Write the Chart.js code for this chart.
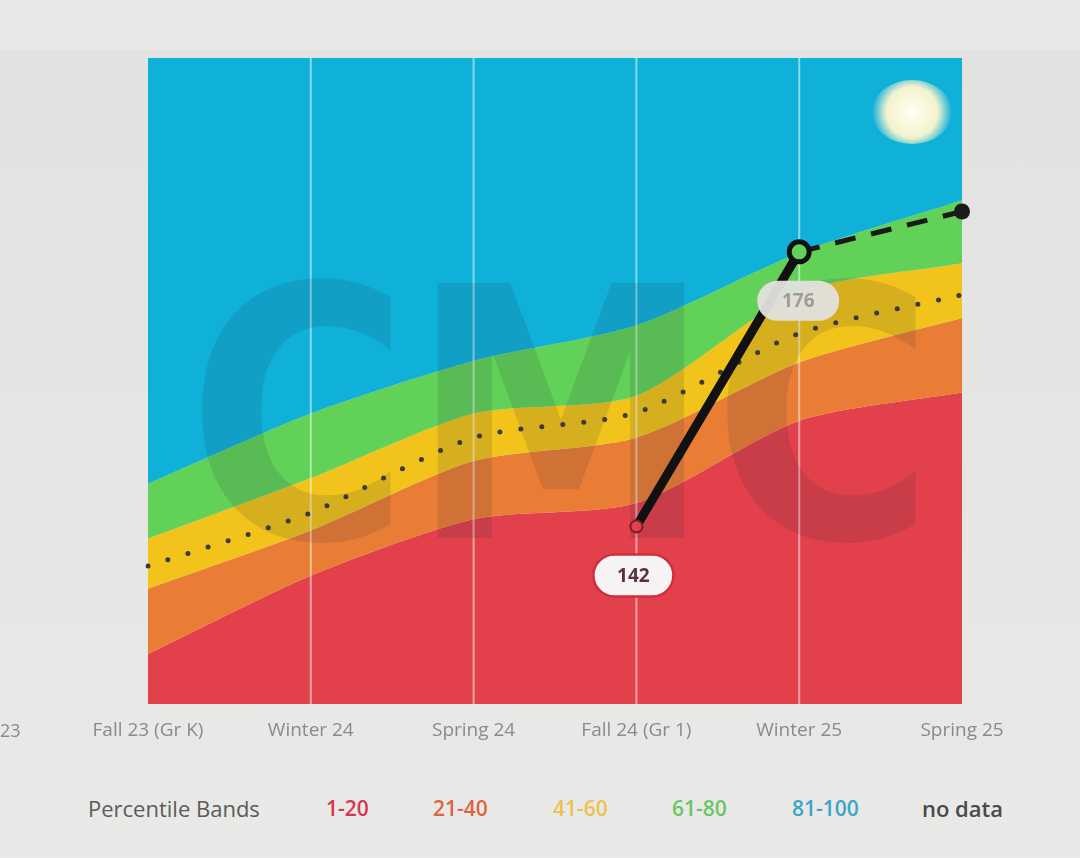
<!DOCTYPE html>
<html>
<head>
<meta charset="utf-8">
<script src="https://cdn.jsdelivr.net/npm/chart.js@4.4.1/dist/chart.umd.min.js"></script>
<style>
  body { margin:0; width:1080px; height:858px; overflow:hidden; position:relative;
         background: linear-gradient(#e8e8e6 0, #e8e8e6 50px, #e2e3e1 51px, #e9e9e7 858px);
         font-family: "Open Sans", sans-serif; }
  #wrap { position:absolute; left:0; top:0; }
  .lg { position:absolute; top:794px; font-size:21px; font-weight:600; line-height:28px; }
  .cut { position:absolute; left:0; top:718px; font-size:18px; color:#8a8a8a; }
</style>
</head>
<body>
<div id="wrap"><canvas id="grafico" width="1080" height="760"></canvas></div>
<span class="cut">23</span>
<span class="lg" style="left:88px;font-weight:400;color:#5b5b5b;font-size:22px">Percentile Bands</span>
<span class="lg" style="left:326px;color:#d6354f">1-20</span>
<span class="lg" style="left:433px;color:#e0633f">21-40</span>
<span class="lg" style="left:553px;color:#eec24c">41-60</span>
<span class="lg" style="left:672px;color:#6cc466">61-80</span>
<span class="lg" style="left:792px;color:#3ca4c9">81-100</span>
<span class="lg" style="left:922px;color:#4a4a4a;font-size:22px">no data</span>
<script>
// periodos (eje x)
const periodos = ['Fall 23 (Gr K)', 'Winter 24', 'Spring 24', 'Fall 24 (Gr 1)', 'Winter 25', 'Spring 25'];
// limites de percentiles
const p20 = [126.2, 135.9, 142.9, 144.9, 155.1, 158.6];
const p40 = [134.3, 141.5, 150.1, 153.0, 162.3, 167.8];
const p50 = [137.1, 143.7, 153.0, 156.1, 165.9, 170.7];
const p60 = [140.5, 148.0, 156.0, 158.2, 171.0, 174.6];
const p80 = [147.3, 156.0, 162.5, 166.9, 175.9, 182.4];
// puntaje del alumno
const puntaje = [null, null, null, 142, 176, null];
const proyeccion = [null, null, null, null, 176, 181];
const yMin = 120, yMax = 200;

const rojo = '#e2414b', naranja = '#ea7d35', amarillo = '#f1c31b', verde = '#62d157', azul = '#10b1d9';

function pastilla(ctx, cx, cy, w, h, fondo, borde, texto, colorTexto) {
  const r = h / 2;
  ctx.beginPath();
  ctx.moveTo(cx - w / 2 + r, cy - r);
  ctx.lineTo(cx + w / 2 - r, cy - r);
  ctx.arc(cx + w / 2 - r, cy, r, -Math.PI / 2, Math.PI / 2);
  ctx.lineTo(cx - w / 2 + r, cy + r);
  ctx.arc(cx - w / 2 + r, cy, r, Math.PI / 2, Math.PI * 1.5);
  ctx.closePath();
  ctx.fillStyle = fondo;
  ctx.fill();
  if (borde) { ctx.strokeStyle = borde; ctx.lineWidth = 2.5; ctx.stroke(); }
  ctx.fillStyle = colorTexto;
  ctx.font = 'bold 19px "Open Sans"';
  ctx.textAlign = 'center';
  ctx.textBaseline = 'middle';
  ctx.fillText(texto, cx, cy + 1);
}

const extras = {
  id: 'extras',
  afterDatasetDraw(chart, args) {
    if (args.index !== 3) return; // despues de las bandas
    const { ctx, chartArea: a, scales: { x } } = chart;
    ctx.save();
    ctx.strokeStyle = 'rgba(255,255,255,0.5)';
    ctx.lineWidth = 2;
    periodos.forEach((p, i) => {
      if (i === 0 || i === periodos.length - 1) return;
      const px = x.getPixelForValue(i);
      ctx.beginPath(); ctx.moveTo(px, a.top); ctx.lineTo(px, a.bottom); ctx.stroke();
    });
    // marca de agua
    ctx.font = 'bold 350px "DejaVu Sans"';
    const ancho = ctx.measureText('CMC').width;
    ctx.translate(561, 538);
    ctx.scale(748 / ancho, 1);
    ctx.fillStyle = 'rgba(25,30,55,0.12)';
    ctx.textAlign = 'center';
    ctx.textBaseline = 'alphabetic';
    ctx.fillText('CMC', 0, 0);
    ctx.restore();
  },
  afterDatasetsDraw(chart) {
    const { ctx, scales: { x, y } } = chart;
    ctx.save();
    const x1 = x.getPixelForValue(3), y1 = y.getPixelForValue(puntaje[3]);
    const x2 = x.getPixelForValue(4), y2 = y.getPixelForValue(puntaje[4]);
    pastilla(ctx, x1 - 3, y1 + 49, 80, 42, '#f5f3f3', '#cf2f3d', String(puntaje[3]), '#5c3242');
    pastilla(ctx, x2 - 1, y2 + 49, 82, 40, 'rgba(226,226,222,0.95)', null, String(puntaje[4]), '#9c9c9c');
    // reflejo de luz
    const g = ctx.createRadialGradient(912, 112, 4, 912, 112, 40);
    g.addColorStop(0, 'rgba(255,252,235,1)');
    g.addColorStop(0.6, 'rgba(255,246,205,0.95)');
    g.addColorStop(1, 'rgba(255,246,205,0)');
    ctx.fillStyle = g;
    ctx.beginPath(); ctx.ellipse(912, 112, 40, 32, 0, 0, Math.PI * 2); ctx.fill();
    ctx.restore();
  }
};

const banda = (data, color, fill) => ({
  data, fill, backgroundColor: color, borderColor: color, borderWidth: 0,
  pointRadius: 0, tension: 0.25
});

new Chart(document.getElementById('grafico'), {
  type: 'line',
  data: {
    labels: periodos,
    datasets: [
      {
        data: puntaje, borderColor: '#111', borderWidth: 9, borderCapStyle: 'round',
        pointRadius: [0, 0, 0, 6, 10, 0], pointBorderWidth: [0, 0, 0, 2, 5, 0],
        pointBackgroundColor: [rojo, rojo, rojo, rojo, verde, rojo],
        pointBorderColor: ['#5a1a20', '#5a1a20', '#5a1a20', '#7a1f28', '#111', '#111'],
        fill: false, spanGaps: false
      },
      {
        data: proyeccion, borderColor: '#1a1a1a', borderWidth: 5, borderDash: [21, 16],
        pointRadius: [0, 0, 0, 0, 0, 8], pointBackgroundColor: '#1a1a1a', pointBorderWidth: 0,
        fill: false
      },
      {
        data: p50, borderColor: '#3a3a3a', borderWidth: 5, borderDash: [0, 21],
        borderCapStyle: 'round', pointRadius: 0, fill: false, tension: 0.25
      },
      banda(p80, azul, 'end'),
      banda(p80, verde, '+1'),
      banda(p60, amarillo, '+1'),
      banda(p40, naranja, '+1'),
      banda(p20, rojo, 'start')
    ]
  },
  options: {
    responsive: false,
    animation: false,
    layout: { padding: { left: 148, right: 118, top: 58, bottom: 3 } },
    plugins: { legend: { display: false }, tooltip: { enabled: false } },
    scales: {
      x: {
        offset: false,
        grid: { display: false, drawTicks: false },
        border: { display: false },
        ticks: { padding: 15, color: '#8a8a8a', font: { family: 'Open Sans', size: 19 }, maxRotation: 0, autoSkip: false }
      },
      y: { display: false, min: yMin, max: yMax }
    }
  },
  plugins: [extras]
});
</script>
</body>
</html>
